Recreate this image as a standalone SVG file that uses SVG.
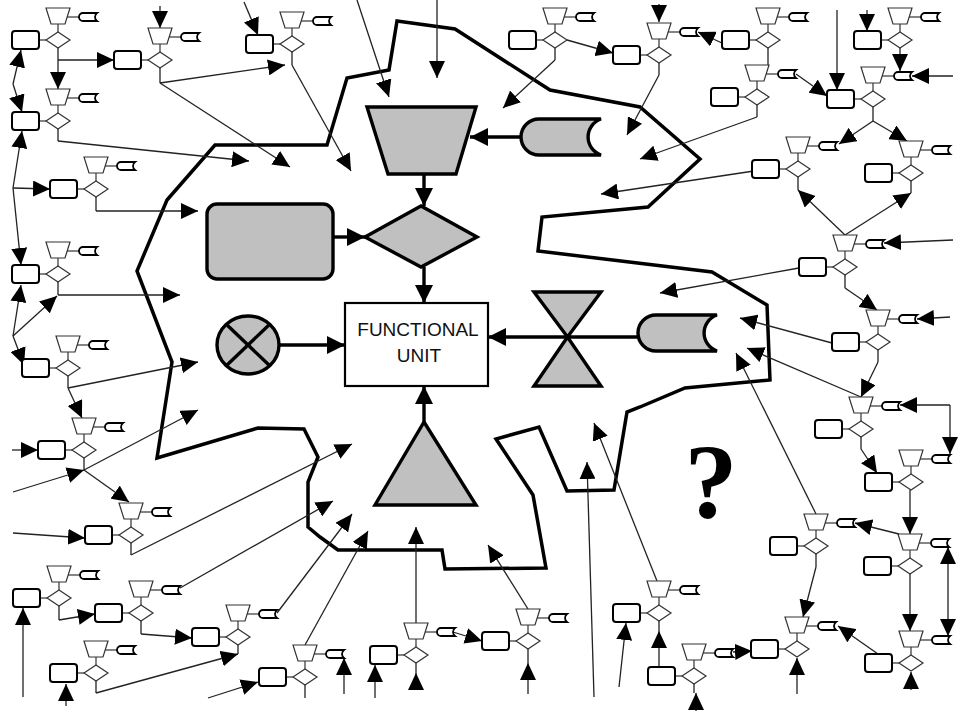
<svg xmlns="http://www.w3.org/2000/svg" width="960" height="711" viewBox="0 0 960 711">
<style>
.tr,.dm{fill:#fff;stroke:#333;stroke-width:1.2}
.rc{fill:#fff;stroke:#000;stroke-width:2}
.tp{fill:#fff;stroke:#000;stroke-width:1.8}
.st{stroke:#333;stroke-width:1.2;fill:none}
.c{stroke:#222;stroke-width:1.3;fill:none;marker-end:url(#a)}
.s{stroke:#222;stroke-width:1.3;fill:none}
.big{fill:#c0c0c0;stroke:#000;stroke-width:3.4;stroke-linejoin:miter}
.bc{stroke:#000;stroke-width:3.4;fill:none;marker-end:url(#A)}
.outline{fill:none;stroke:#000;stroke-width:3.5;stroke-linejoin:miter}
.lbl{font-family:"Liberation Sans",Arial,sans-serif;font-size:19px;fill:#111}
.q{font-family:"Liberation Serif","Times New Roman",serif;font-weight:bold;font-size:106px;fill:#000}
</style>
<defs>
<marker id="a" markerUnits="userSpaceOnUse" markerWidth="17" markerHeight="16" refX="17" refY="8" orient="auto"><path d="M0,0 L17,8 L0,16 Z" fill="#000"/></marker>
<marker id="A" markerUnits="userSpaceOnUse" markerWidth="18" markerHeight="18" refX="18" refY="9" orient="auto"><path d="M0,0 L18,9 L0,18 Z" fill="#000"/></marker>
<g id="cell">
<line class="st" x1="0" y1="-16" x2="0" y2="-8"/>
<line class="st" x1="-19" y1="0" x2="-12" y2="0"/>
<line class="st" x1="9" y1="-23" x2="22" y2="-23"/>
<polygon class="tr" points="-12,-32 12,-32 7,-16 -7,-16"/>
<polygon class="dm" points="-12,0 0,-8 12,0 0,8"/>
<rect class="rc" x="-46" y="-9" width="27" height="18" rx="3"/>
<path class="tp" d="M25,-27 H39 A5,5 0 0 0 39,-19 H25 A4,4 0 0 1 25,-27 Z"/>
</g>
</defs>
<rect width="960" height="711" fill="#fff"/>

<g id="boundary">
<polygon class="outline" points="397,21 455,29 550,90 640,107 700,159 648,207 542,217 538,251 712,272 767,305 770,380 685,388 640,407 627,412 614,490 567,491 539,427 496,439 533,495 546,568 445,569 442,550 338,550 320,537 308,527 308,482 318,457 304,429 258,428 157,458 172,362 137,271 167,200 215,145 327,145 347,78 389,70"/>
</g>

<g id="connectors">
<line class="bc" x1="424" y1="174" x2="424" y2="206"/>
<line class="bc" x1="521" y1="137" x2="470" y2="137"/>
<line class="bc" x1="333" y1="237" x2="365" y2="237"/>
<line class="bc" x1="424" y1="267" x2="424" y2="303"/>
<line class="bc" x1="279" y1="345" x2="345" y2="345"/>
<line class="bc" x1="638" y1="337" x2="488" y2="337"/>
<line class="bc" x1="424" y1="422" x2="424" y2="386"/>

<line class="c" x1="58" y1="60" x2="114" y2="60"/>
<line class="c" x1="58" y1="48" x2="58" y2="89"/>
<line class="c" x1="160" y1="6" x2="160" y2="28"/>
<line class="s" x1="160" y1="68" x2="160" y2="83"/>
<line class="c" x1="160" y1="83" x2="285" y2="65"/>
<line class="c" x1="160" y1="83" x2="290" y2="167"/>
<line class="c" x1="244" y1="2" x2="258" y2="35"/>
<line class="s" x1="292" y1="52" x2="292" y2="65"/>
<line class="c" x1="292" y1="65" x2="351" y2="171"/>
<line class="c" x1="13" y1="84" x2="21" y2="50"/>
<line class="c" x1="13" y1="84" x2="22" y2="112"/>
<line class="c" x1="13" y1="188" x2="22" y2="131"/>
<line class="c" x1="13" y1="188" x2="21" y2="265"/>
<line class="c" x1="13" y1="188" x2="50" y2="189"/>
<line class="s" x1="58" y1="129" x2="58" y2="141"/>
<line class="c" x1="58" y1="141" x2="249" y2="161"/>
<line class="s" x1="96" y1="197" x2="96" y2="211"/>
<line class="c" x1="96" y1="211" x2="198" y2="211"/>
<line class="c" x1="357" y1="0" x2="389" y2="97"/>
<line class="c" x1="437" y1="0" x2="437" y2="78"/>
<line class="s" x1="555" y1="48" x2="555" y2="60"/>
<line class="c" x1="555" y1="60" x2="503" y2="108"/>
<line class="c" x1="567" y1="40" x2="613" y2="53"/>
<line class="c" x1="659" y1="4" x2="659" y2="22"/>
<line class="s" x1="659" y1="63" x2="659" y2="75"/>
<line class="c" x1="659" y1="75" x2="627" y2="135"/>
<line class="c" x1="722" y1="43" x2="698" y2="32"/>
<line class="s" x1="768" y1="48" x2="768" y2="65"/>
<line class="s" x1="757" y1="105" x2="757" y2="117"/>
<line class="c" x1="757" y1="117" x2="640" y2="159"/>
<line class="c" x1="796" y1="74" x2="827" y2="96"/>
<line class="c" x1="837" y1="10" x2="837" y2="90"/>
<line class="c" x1="867" y1="10" x2="867" y2="31"/>
<line class="c" x1="900" y1="48" x2="900" y2="71"/>
<line class="c" x1="953" y1="76" x2="912" y2="76"/>
<line class="s" x1="873" y1="107" x2="873" y2="121"/>
<line class="c" x1="873" y1="121" x2="839" y2="144"/>
<line class="c" x1="873" y1="121" x2="907" y2="141"/>
<line class="s" x1="798" y1="177" x2="798" y2="190"/>
<line class="s" x1="911" y1="181" x2="911" y2="193"/>
<line class="c" x1="845" y1="235" x2="798" y2="190"/>
<line class="c" x1="845" y1="235" x2="911" y2="193"/>
<line class="c" x1="754" y1="171" x2="601" y2="194"/>
<line class="c" x1="953" y1="240" x2="884" y2="243"/>
<line class="c" x1="799" y1="268" x2="660" y2="293"/>
<line class="s" x1="845" y1="275" x2="845" y2="288"/>
<line class="c" x1="845" y1="288" x2="877" y2="310"/>
<line class="c" x1="950" y1="317" x2="917" y2="319"/>
<line class="c" x1="832" y1="343" x2="740" y2="318"/>
<line class="s" x1="878" y1="350" x2="878" y2="362"/>
<line class="c" x1="878" y1="362" x2="861" y2="397"/>
<line class="c" x1="861" y1="397" x2="747" y2="348"/>
<line class="c" x1="950" y1="405" x2="900" y2="405"/>
<line class="c" x1="950" y1="405" x2="950" y2="454"/>
<line class="s" x1="861" y1="437" x2="861" y2="449"/>
<line class="c" x1="861" y1="449" x2="877" y2="473"/>
<line class="c" x1="910" y1="490" x2="910" y2="534"/>
<line class="c" x1="899" y1="534" x2="855" y2="523"/>
<line class="c" x1="816" y1="514" x2="736" y2="353"/>
<line class="c" x1="657" y1="581" x2="594" y2="423"/>
<line class="s" x1="816" y1="554" x2="816" y2="567"/>
<line class="c" x1="816" y1="567" x2="803" y2="617"/>
<line class="c" x1="910" y1="574" x2="910" y2="631"/>
<line class="c" x1="948" y1="591" x2="948" y2="547"/>
<line class="c" x1="948" y1="591" x2="948" y2="636"/>
<line class="c" x1="878" y1="654" x2="838" y2="626"/>
<line class="c" x1="911" y1="690" x2="911" y2="672"/>
<line class="c" x1="797" y1="694" x2="797" y2="658"/>
<line class="c" x1="733" y1="652" x2="752" y2="651"/>
<line class="s" x1="694" y1="684" x2="694" y2="693"/>
<line class="c" x1="696" y1="711" x2="696" y2="693"/>
<line class="s" x1="659" y1="621" x2="659" y2="631"/>
<line class="c" x1="659" y1="669" x2="659" y2="631"/>
<line class="c" x1="619" y1="687" x2="626" y2="623"/>
<line class="c" x1="594" y1="697" x2="587" y2="462"/>
<line class="c" x1="528" y1="609" x2="488" y2="545"/>
<line class="s" x1="528" y1="649" x2="528" y2="663"/>
<line class="c" x1="528" y1="694" x2="528" y2="663"/>
<line class="c" x1="453" y1="632" x2="482" y2="641"/>
<line class="c" x1="416" y1="623" x2="416" y2="527"/>
<line class="s" x1="416" y1="663" x2="416" y2="673"/>
<line class="c" x1="416" y1="690" x2="416" y2="673"/>
<line class="c" x1="375" y1="698" x2="375" y2="665"/>
<line class="c" x1="344" y1="694" x2="344" y2="658"/>
<line class="c" x1="305" y1="645" x2="368" y2="531"/>
<line class="c" x1="277" y1="613" x2="352" y2="514"/>
<line class="c" x1="180" y1="588" x2="333" y2="501"/>
<line class="s" x1="131" y1="543" x2="131" y2="555"/>
<line class="c" x1="131" y1="555" x2="352" y2="444"/>
<line class="c" x1="13" y1="533" x2="85" y2="538"/>
<line class="c" x1="13" y1="492" x2="84" y2="470"/>
<line class="s" x1="84" y1="458" x2="84" y2="470"/>
<line class="c" x1="84" y1="470" x2="198" y2="410"/>
<line class="c" x1="84" y1="470" x2="129" y2="502"/>
<line class="c" x1="12" y1="450" x2="38" y2="450"/>
<line class="s" x1="68" y1="376" x2="68" y2="388"/>
<line class="c" x1="68" y1="388" x2="198" y2="362"/>
<line class="c" x1="68" y1="388" x2="82" y2="418"/>
<line class="c" x1="13" y1="336" x2="21" y2="285"/>
<line class="c" x1="13" y1="336" x2="57" y2="296"/>
<line class="c" x1="13" y1="336" x2="24" y2="365"/>
<line class="s" x1="58" y1="282" x2="58" y2="295"/>
<line class="c" x1="58" y1="295" x2="180" y2="295"/>
<line class="s" x1="59" y1="606" x2="59" y2="620"/>
<line class="c" x1="59" y1="620" x2="95" y2="614"/>
<line class="s" x1="141" y1="621" x2="141" y2="634"/>
<line class="c" x1="141" y1="634" x2="192" y2="638"/>
<line class="s" x1="238" y1="645" x2="238" y2="654"/>
<line class="s" x1="96" y1="681" x2="96" y2="693"/>
<line class="c" x1="96" y1="693" x2="238" y2="654"/>
<line class="c" x1="23" y1="697" x2="23" y2="608"/>
<line class="c" x1="66" y1="706" x2="66" y2="684"/>
<line class="c" x1="208" y1="698" x2="258" y2="682"/>
<line class="s" x1="305" y1="685" x2="305" y2="698"/>
</g>

<g id="node-trapezoid"><polygon class="big" points="367,107 476,107 456,174 388,174"/></g>
<g id="node-can-top"><path class="big" d="M539,119 H601 A19,19 0 0 0 601,155 H539 A18,18 0 0 1 539,119 Z"/></g>
<g id="node-rect"><rect class="big" x="207" y="204" width="126" height="75" rx="10"/></g>
<g id="node-diamond"><polygon class="big" points="365,237 421,206 477,237 421,267"/></g>
<g id="node-circle"><ellipse class="big" cx="248" cy="345" rx="31" ry="29"/><line x1="226" y1="324" x2="270" y2="366" stroke="#000" stroke-width="3.4"/><line x1="270" y1="324" x2="226" y2="366" stroke="#000" stroke-width="3.4"/></g>
<g id="node-functional-unit"><rect x="345" y="303" width="143" height="83" fill="#fff" stroke="#000" stroke-width="2.2"/><text class="lbl" x="418" y="336" text-anchor="middle">FUNCTIONAL</text><text class="lbl" x="419" y="362" text-anchor="middle">UNIT</text></g>
<g id="node-bowtie"><polygon class="big" points="534,292 601,292 567.5,337"/><polygon class="big" points="567.5,337 534,386 601,386"/></g>
<g id="node-can-right"><path class="big" d="M656,315 H717 A19,19 0 0 0 717,351 H656 A18,18 0 0 1 656,315 Z"/></g>
<g id="node-triangle"><polygon class="big" points="424,422 476,505 375,505"/></g>
<g id="question"><text class="q" x="711" y="518" text-anchor="middle">?</text></g>

<g id="cell-A" transform="translate(58,40)"><use href="#cell"/></g>
<g id="cell-B" transform="translate(160,60)"><use href="#cell"/></g>
<g id="cell-C" transform="translate(58,121)"><use href="#cell"/></g>
<g id="cell-D" transform="translate(96,189)"><use href="#cell"/></g>
<g id="cell-E" transform="translate(292,44)"><use href="#cell"/></g>
<g id="cell-F" transform="translate(58,274)"><use href="#cell"/></g>
<g id="cell-G" transform="translate(68,368)"><use href="#cell"/></g>
<g id="cell-H" transform="translate(84,450)"><use href="#cell"/></g>
<g id="cell-I" transform="translate(131,535)"><use href="#cell"/></g>
<g id="cell-J" transform="translate(59,598)"><use href="#cell"/></g>
<g id="cell-K" transform="translate(141,613)"><use href="#cell"/></g>
<g id="cell-L" transform="translate(238,637)"><use href="#cell"/></g>
<g id="cell-M" transform="translate(96,673)"><use href="#cell"/></g>
<g id="cell-N" transform="translate(305,677)"><use href="#cell"/></g>
<g id="cell-O" transform="translate(416,655)"><use href="#cell"/></g>
<g id="cell-P" transform="translate(528,641)"><use href="#cell"/></g>
<g id="cell-Q" transform="translate(555,40)"><use href="#cell"/></g>
<g id="cell-R" transform="translate(659,55)"><use href="#cell"/></g>
<g id="cell-S" transform="translate(768,40)"><use href="#cell"/></g>
<g id="cell-T" transform="translate(757,97)"><use href="#cell"/></g>
<g id="cell-U" transform="translate(900,40)"><use href="#cell"/></g>
<g id="cell-V" transform="translate(873,99)"><use href="#cell"/></g>
<g id="cell-W" transform="translate(798,169)"><use href="#cell"/></g>
<g id="cell-X" transform="translate(911,173)"><use href="#cell"/></g>
<g id="cell-Y" transform="translate(845,267)"><use href="#cell"/></g>
<g id="cell-Z" transform="translate(878,342)"><use href="#cell"/></g>
<g id="cell-AA" transform="translate(861,429)"><use href="#cell"/></g>
<g id="cell-AB" transform="translate(911,482)"><use href="#cell"/></g>
<g id="cell-AC" transform="translate(816,546)"><use href="#cell"/></g>
<g id="cell-AD" transform="translate(910,566)"><use href="#cell"/></g>
<g id="cell-AE" transform="translate(797,649)"><use href="#cell"/></g>
<g id="cell-AF" transform="translate(911,663)"><use href="#cell"/></g>
<g id="cell-AG" transform="translate(659,613)"><use href="#cell"/></g>
<g id="cell-AH" transform="translate(694,676)"><use href="#cell"/></g>
</svg>
